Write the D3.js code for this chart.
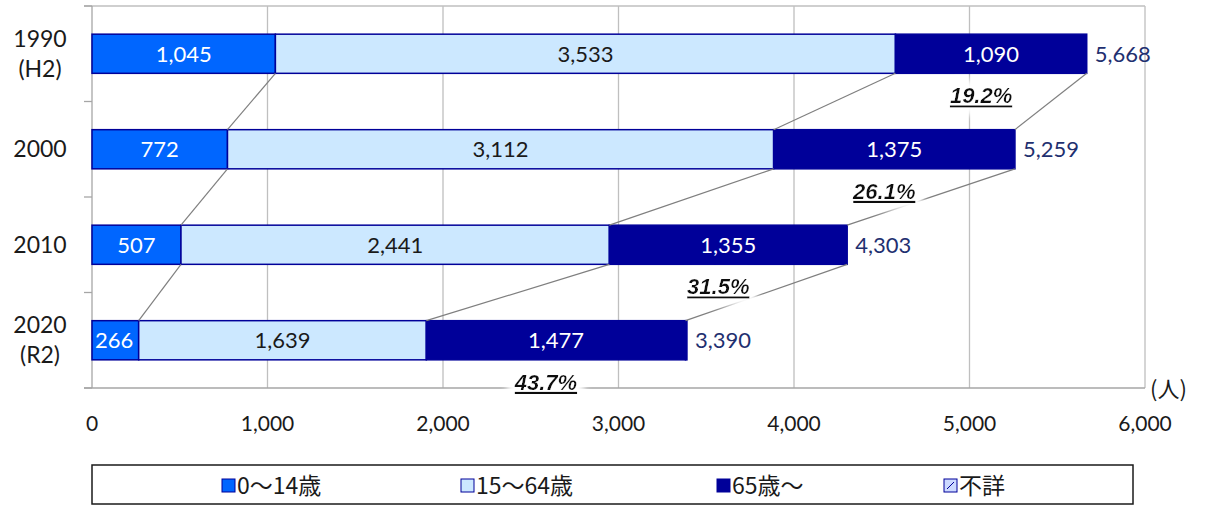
<!DOCTYPE html>
<html>
<head>
<meta charset="utf-8">
<script src="https://cdn.jsdelivr.net/npm/d3@7"></script>
<style>
  body { margin: 0; background: #fff; }
  text { font-family: "Lato", "Noto Sans", sans-serif; }
</style>
</head>
<body>
<div id="canvas"></div>
<script>
// data
const years = [["1990", "(H2)"], ["2000"], ["2010"], ["2020", "(R2)"]];
const young = [1045, 772, 507, 266];
const working = [3533, 3112, 2441, 1639];
const elderly = [1090, 1375, 1355, 1477];
const unknown = [0, 0, 0, 8];
const totals = [5668, 5259, 4303, 3390];
const shares = ["19.2%", "26.1%", "31.5%", "43.7%"];
const xTicks = [0, 1000, 2000, 3000, 4000, 5000, 6000];
const legendNames = ["0\u301C14歳", "15\u301C64歳", "65歳\u301C", "不詳"];

const width = 1207;
const height = 507;
const colors = ["#0066ff", "#cce8ff", "#000099", "#ccd9ff"];

const svg = d3.select("#canvas").append("svg")
  .attr("width", width)
  .attr("height", height);

const defs = svg.append("defs");
const glow = defs.append("filter").attr("id", "glow")
  .attr("x", "-40%").attr("y", "-60%").attr("width", "180%").attr("height", "220%");
glow.append("feMorphology").attr("in", "SourceAlpha").attr("operator", "dilate").attr("radius", 5).attr("result", "d");
glow.append("feFlood").attr("flood-color", "#fff").attr("result", "w");
glow.append("feComposite").attr("in", "w").attr("in2", "d").attr("operator", "in").attr("result", "wd");
glow.append("feGaussianBlur").attr("in", "wd").attr("stdDeviation", 4).attr("result", "b");
const merge = glow.append("feMerge");
merge.append("feMergeNode").attr("in", "b");
merge.append("feMergeNode").attr("in", "b");
merge.append("feMergeNode").attr("in", "SourceGraphic");

const x = d3.scaleLinear().domain([0, 6000]).range([92, 1145]);
const y = d3.scaleBand().domain(d3.range(years.length)).range([6, 388])
  .paddingInner(0.59).paddingOuter(0.295);
const bw = y.bandwidth();

// grid + plot border
svg.append("g").selectAll("line").data(xTicks.slice(1)).enter().append("line")
  .attr("x1", (d) => x(d)).attr("x2", (d) => x(d))
  .attr("y1", 6).attr("y2", 388)
  .attr("stroke", "#bfbfbf").attr("stroke-width", 1.3);
svg.append("line").attr("x1", 84).attr("x2", x(6000)).attr("y1", 6).attr("y2", 6)
  .attr("stroke", "#bfbfbf").attr("stroke-width", 1.3);
svg.append("line").attr("x1", 84).attr("x2", x(6000)).attr("y1", 388).attr("y2", 388)
  .attr("stroke", "#a6a6a6").attr("stroke-width", 1.3);

// y axis with band ticks
const yBounds = d3.range(years.length + 1).map((i) => 6 + i * y.step());
svg.append("line").attr("x1", x(0)).attr("x2", x(0)).attr("y1", 6).attr("y2", 388)
  .attr("stroke", "#a6a6a6").attr("stroke-width", 1.3);
svg.append("g").selectAll("line").data(yBounds).enter().append("line")
  .attr("x1", 84).attr("x2", x(0)).attr("y1", (d) => d).attr("y2", (d) => d)
  .attr("stroke", "#a6a6a6").attr("stroke-width", 1.3);

// stacked bars
const series = [young, working, elderly, unknown];
const stacks = years.map((_, i) => {
  let acc = 0;
  return series.map((s, k) => {
    const seg = { k: k, i: i, x0: acc, x1: acc + s[i] };
    acc += s[i];
    return seg;
  });
});

svg.append("g").selectAll("rect").data(stacks.flat()).enter().append("rect")
  .attr("x", (d) => x(d.x0))
  .attr("y", (d) => y(d.i))
  .attr("width", (d) => x(d.x1) - x(d.x0))
  .attr("height", bw)
  .attr("fill", (d) => colors[d.k])
  .attr("stroke", "#000099")
  .attr("stroke-width", 1.5);

// series lines between bars
const lineG = svg.append("g");
for (let i = 0; i < years.length - 1; i++) {
  [0, 1, 2].forEach((k) => {
    lineG.append("line")
      .attr("x1", x(stacks[i][k].x1)).attr("y1", y(i) + bw)
      .attr("x2", x(stacks[i + 1][k].x1)).attr("y2", y(i + 1))
      .attr("stroke", "#7f7f7f").attr("stroke-width", 1.2);
  });
}

// segment labels
svg.append("g").selectAll("text").data(stacks.flat().filter((d) => d.k < 3)).enter().append("text")
  .attr("x", (d) => (d.k === 0 && d.i === 3 ? x(d.x0) + 3 : (x(d.x0) + x(d.x1)) / 2))
  .attr("y", (d) => y(d.i) + bw / 2 + 8)
  .attr("text-anchor", (d) => (d.k === 0 && d.i === 3 ? "start" : "middle"))
  .attr("fill", (d) => (d.k === 1 ? "#1a1a1a" : "#fff"))
  .style("font-size", "22px")
  .text((d) => d3.format(",")(d.x1 - d.x0));

// totals
svg.append("g").selectAll("text").data(totals).enter().append("text")
  .attr("x", (d) => x(d) + 8)
  .attr("y", (d, i) => y(i) + bw / 2 + 8)
  .attr("fill", "#1f3070")
  .style("font-size", "22px")
  .text((d) => d3.format(",")(d));

// elderly share labels
svg.append("g").selectAll("text").data(shares).enter().append("text")
  .attr("x", (d, i) => (x(stacks[i][2].x0) + x(stacks[i][2].x1)) / 2 - 10)
  .attr("y", (d, i) => y(i) + bw + 30)
  .attr("text-anchor", "middle")
  .attr("filter", "url(#glow)")
  .style("font-family", "'Liberation Sans', Arial, sans-serif")
  .style("font-size", "22px")
  .style("font-weight", "bold")
  .style("font-style", "italic")
  .style("text-decoration", "underline")
  .attr("fill", "#111")
  .text((d) => d);

// year labels
const yl = svg.append("g").selectAll("text").data(years).enter().append("text")
  .attr("text-anchor", "middle")
  .attr("fill", "#1a1a1a")
  .style("font-size", "23px");
yl.each(function (d, i) {
  const t = d3.select(this);
  const cy = y(i) + bw / 2;
  d.forEach((line, j) => {
    t.append("tspan")
      .attr("x", 40)
      .attr("y", cy + 8 + (j - (d.length - 1) / 2) * 30)
      .text(line);
  });
});

// x tick labels
svg.append("g").selectAll("text").data(xTicks).enter().append("text")
  .attr("x", (d) => x(d))
  .attr("y", 431)
  .attr("text-anchor", "middle")
  .attr("fill", "#1a1a1a")
  .style("font-size", "21px")
  .text((d) => d3.format(",")(d));

svg.append("text")
  .attr("x", 1150).attr("y", 397)
  .attr("fill", "#1a1a1a")
  .style("font-family", "'Noto Sans CJK JP', sans-serif")
  .style("font-size", "22px")
  .text("(人)");

// legend
svg.append("rect")
  .attr("x", 92).attr("y", 465).attr("width", 1041).attr("height", 39)
  .attr("fill", "#fff").attr("stroke", "#1a1a1a").attr("stroke-width", 1.5);
const legendX = [222, 461, 717, 944];
const lg = svg.append("g").selectAll("g").data(legendNames).enter().append("g")
  .attr("transform", (d, i) => `translate(${legendX[i]}, 485)`);
lg.append("rect")
  .attr("x", 0).attr("y", -6).attr("width", 13).attr("height", 13)
  .attr("fill", (d, i) => colors[i])
  .attr("stroke", "#000099").attr("stroke-width", 1);
lg.filter((d, i) => i === 3).append("line")
  .attr("x1", 3).attr("y1", 4).attr("x2", 10).attr("y2", -3)
  .attr("stroke", "#000099").attr("stroke-width", 1);
lg.append("text")
  .attr("x", 15).attr("y", 9)
  .attr("fill", "#1a1a1a")
  .style("font-family", "'Noto Sans CJK JP', sans-serif")
  .style("font-size", "23px")
  .text((d) => d);
</script>
</body>
</html>
